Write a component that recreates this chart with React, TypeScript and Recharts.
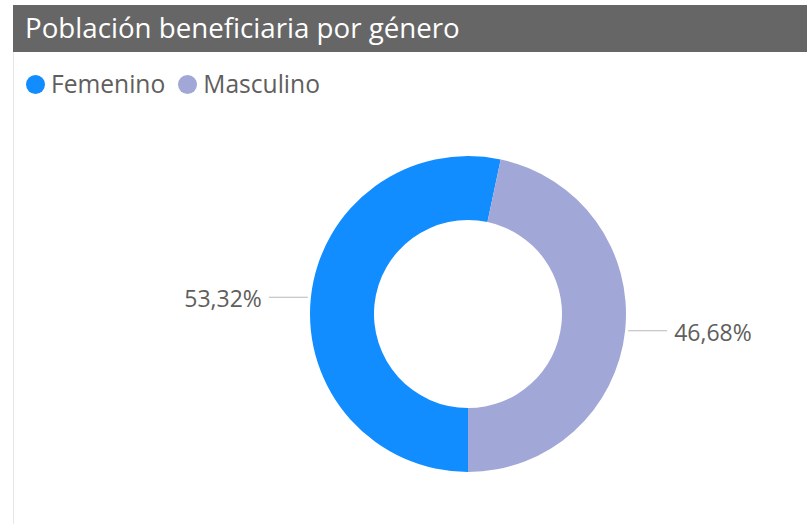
import React from "react";
import { PieChart, Pie, Cell } from "recharts";

const title = "Población beneficiaria por género";
const categories = ["Femenino", "Masculino"];
const values = [53.32, 46.68];
const colors = ["#118DFF", "#A1A7D7"];

const data = categories.map((name, i) => ({ name, value: values[i] }));

const RADIAN = Math.PI / 180;

const fmt = (v: number) => v.toFixed(2).replace(".", ",") + "%";

const renderLabel = (props: any) => {
  const { cx, cy, midAngle, outerRadius, value } = props;
  const cos = Math.cos(-midAngle * RADIAN);
  const sin = Math.sin(-midAngle * RADIAN);
  const sx = cx + (outerRadius + 3) * cos;
  const sy = cy + (outerRadius + 3) * sin;
  const dir = cos >= 0 ? 1 : -1;
  const ex = sx + dir * 39;
  return (
    <g>
      <path d={`M${sx},${sy}L${ex},${sy}`} stroke="#b8b8b8" strokeWidth={1.2} fill="none" />
      <text
        x={ex + dir * 7}
        y={sy + 1}
        textAnchor={dir > 0 ? "start" : "end"}
        dominantBaseline="central"
        fill="#605E5C"
        fontSize={23}
        fontFamily="'Open Sans', sans-serif"
      >
        {fmt(value)}
      </text>
    </g>
  );
};

export default function App() {
  return (
    <div
      style={{
        position: "absolute",
        left: 0,
        top: 0,
        width: 807,
        height: 524,
        background: "#fff",
        overflow: "hidden",
        fontFamily: "'Open Sans', sans-serif",
      }}
    >
      <div
        style={{
          position: "absolute",
          left: 13,
          top: 52,
          width: 1,
          height: 472,
          background: "#e6e6e6",
        }}
      />
      <div
        style={{
          position: "absolute",
          left: 13,
          top: 5,
          width: 794,
          height: 47,
          background: "#666666",
          color: "#fff",
          fontSize: 27.7,
          lineHeight: "45px",
          paddingLeft: 12,
          boxSizing: "border-box",
          whiteSpace: "nowrap",
        }}
      >
        {title}
      </div>
      <div
        style={{
          position: "absolute",
          left: 26,
          top: 70,
          display: "flex",
          alignItems: "center",
          fontSize: 24.6,
          color: "#605E5C",
          lineHeight: "28px",
        }}
      >
        {categories.map((c, i) => (
          <div key={c} style={{ display: "flex", alignItems: "center", marginRight: 13 }}>
            <span
              style={{
                display: "inline-block",
                width: 19,
                height: 19,
                borderRadius: "50%",
                background: colors[i],
                marginRight: 6,
              }}
            />
            <span>{c}</span>
          </div>
        ))}
      </div>
      <div style={{ position: "absolute", left: 0, top: 0 }}>
        <PieChart width={807} height={524} margin={{ top: 0, right: 0, bottom: 0, left: 0 }}>
          <Pie
            data={data}
            dataKey="value"
            nameKey="name"
            cx={468}
            cy={314}
            innerRadius={94}
            outerRadius={158}
            startAngle={-90}
            endAngle={-450}
            stroke="none"
            label={renderLabel}
            labelLine={false}
            isAnimationActive={false}
          >
            {data.map((d, i) => (
              <Cell key={d.name} fill={colors[i]} />
            ))}
          </Pie>
        </PieChart>
      </div>
    </div>
  );
}
